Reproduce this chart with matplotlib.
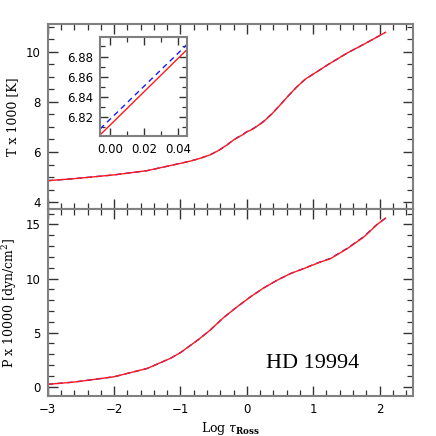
import matplotlib
matplotlib.use("Agg")
import matplotlib.pyplot as plt
from matplotlib.ticker import MultipleLocator, FormatStrFormatter

# ----- data -----
tau_T = [-3.0, -2.6, -2.0, -1.5, -1.0, -0.85, -0.703, -0.552, -0.427, -0.30,
         -0.20, -0.05, 0.0, 0.10, 0.252, 0.378, 0.504, 0.629, 0.755, 0.88,
         1.057, 1.24, 1.51, 1.81, 2.09]
T_red = [4.86, 4.94, 5.09, 5.26, 5.55, 5.64, 5.75, 5.89, 6.06, 6.28,
         6.48, 6.71, 6.80, 6.93, 7.21, 7.52, 7.88, 8.25, 8.60, 8.90,
         9.20, 9.51, 9.94, 10.36, 10.77]
T_blue = [4.86, 4.94, 5.09, 5.26, 5.55, 5.64, 5.75, 5.89, 6.06, 6.28,
          6.49, 6.72, 6.81, 6.94, 7.22, 7.53, 7.88, 8.25, 8.60, 8.90,
          9.20, 9.51, 9.94, 10.36, 10.77]

tau_P = [-3.0, -2.6, -2.0, -1.5, -1.155, -1.0, -0.73, -0.552, -0.35, -0.149,
         0.051, 0.252, 0.454, 0.655, 0.855, 1.107, 1.26, 1.51, 1.76, 1.96, 2.09]
P_red = [0.22, 0.43, 0.92, 1.69, 2.61, 3.15, 4.35, 5.23, 6.39, 7.37,
         8.29, 9.12, 9.83, 10.45, 10.91, 11.52, 11.83, 12.75, 13.82, 14.97, 15.58]
P_blue = [0.22, 0.43, 0.92, 1.69, 2.61, 3.15, 4.35, 5.23, 6.39, 7.37,
          8.29, 9.12, 9.83, 10.45, 10.92, 11.54, 11.86, 12.78, 13.86, 14.99, 15.58]

# zoomed piece around log tau = 0
tau_zoom = [-0.00585, 0.0449]
T_zoom_red = [6.8025, 6.8866]
T_zoom_blue = [6.8084, 6.8916]

# ----- estilo -----
RED = "#ff1a1a"
BLUE = "#1a1aff"
FRAME = "#808080"
TICKC = "#333333"
TICKFONT = "DejaVu Sans"
LABFONT = "DejaVu Serif"
plt.rcParams["mathtext.fontset"] = "dejavuserif"


def style_axes(ax, xmaj, xmin, ymaj, ymin, fs=8.5):
    for sp in ax.spines.values():
        sp.set_color(FRAME)
        sp.set_linewidth(1.5)
    ax.xaxis.set_major_locator(MultipleLocator(xmaj))
    ax.xaxis.set_minor_locator(MultipleLocator(xmin))
    ax.yaxis.set_major_locator(MultipleLocator(ymaj))
    ax.yaxis.set_minor_locator(MultipleLocator(ymin))
    ax.tick_params(which="both", direction="in", top=True, right=True,
                   color=TICKC, labelsize=fs, pad=5)
    ax.tick_params(which="major", length=7, width=1.0)
    ax.tick_params(which="minor", length=4, width=0.9)
    for lab in ax.get_xticklabels() + ax.get_yticklabels():
        lab.set_family(TICKFONT)


fig = plt.figure(figsize=(4.36, 4.36), dpi=100)
ax_t = fig.add_axes([0.1094, 0.5200, 0.8372, 0.4243])
ax_p = fig.add_axes([0.1094, 0.0917, 0.8372, 0.4283], sharex=ax_t)
ax_in = fig.add_axes([0.2294, 0.6881, 0.1989, 0.2263])

# ----- panel T -----
ax_t.plot(tau_T, T_blue, color=BLUE, lw=1.0, ls=(0, (4, 3)))
ax_t.plot(tau_T, T_red, color=RED, lw=1.0)
ax_t.set_xlim(-3.0, 2.5)
ax_t.set_ylim(3.72, 11.09)
style_axes(ax_t, 1, 0.2, 2, 0.5)
ax_t.tick_params(labelbottom=False)
ax_t.set_ylabel("T x 1000 [K]", family=LABFONT, fontsize=9)
ax_t.yaxis.set_label_coords(-0.078, 0.5)

# ----- panel P -----
ax_p.plot(tau_P, P_blue, color=BLUE, lw=1.0, ls=(0, (4, 3)))
ax_p.plot(tau_P, P_red, color=RED, lw=1.0)
ax_p.set_ylim(-0.86, 16.4)
style_axes(ax_p, 1, 0.2, 5, 1)
ax_p.set_ylabel("P x 10000 [dyn/cm$^2$]", family=LABFONT, fontsize=9)
ax_p.yaxis.set_label_coords(-0.078, 0.5)
ax_p.set_xlabel(r"Log $\tau_{\mathbf{Ross}}$", family=LABFONT, fontsize=9,
                labelpad=3)
ax_p.text(0.727, 0.174, "HD 19994", transform=ax_p.transAxes,
          family="Liberation Serif", fontsize=16, ha="center", va="center")

# ----- inset -----
ax_in.plot(tau_zoom, T_zoom_blue, color=BLUE, lw=1.0, ls=(0, (4, 3)))
ax_in.plot(tau_zoom, T_zoom_red, color=RED, lw=1.0)
ax_in.set_xlim(-0.00585, 0.0449)
ax_in.set_ylim(6.8015, 6.899)
style_axes(ax_in, 0.02, 0.01, 0.02, 0.01)
ax_in.tick_params(which="major", length=6)
ax_in.tick_params(which="minor", length=3.5)
ax_in.xaxis.set_major_formatter(FormatStrFormatter("%.2f"))
ax_in.yaxis.set_major_formatter(FormatStrFormatter("%.2f"))
for lab in ax_in.get_xticklabels() + ax_in.get_yticklabels():
    lab.set_family(TICKFONT)

fig.savefig("out.png", dpi=100)
